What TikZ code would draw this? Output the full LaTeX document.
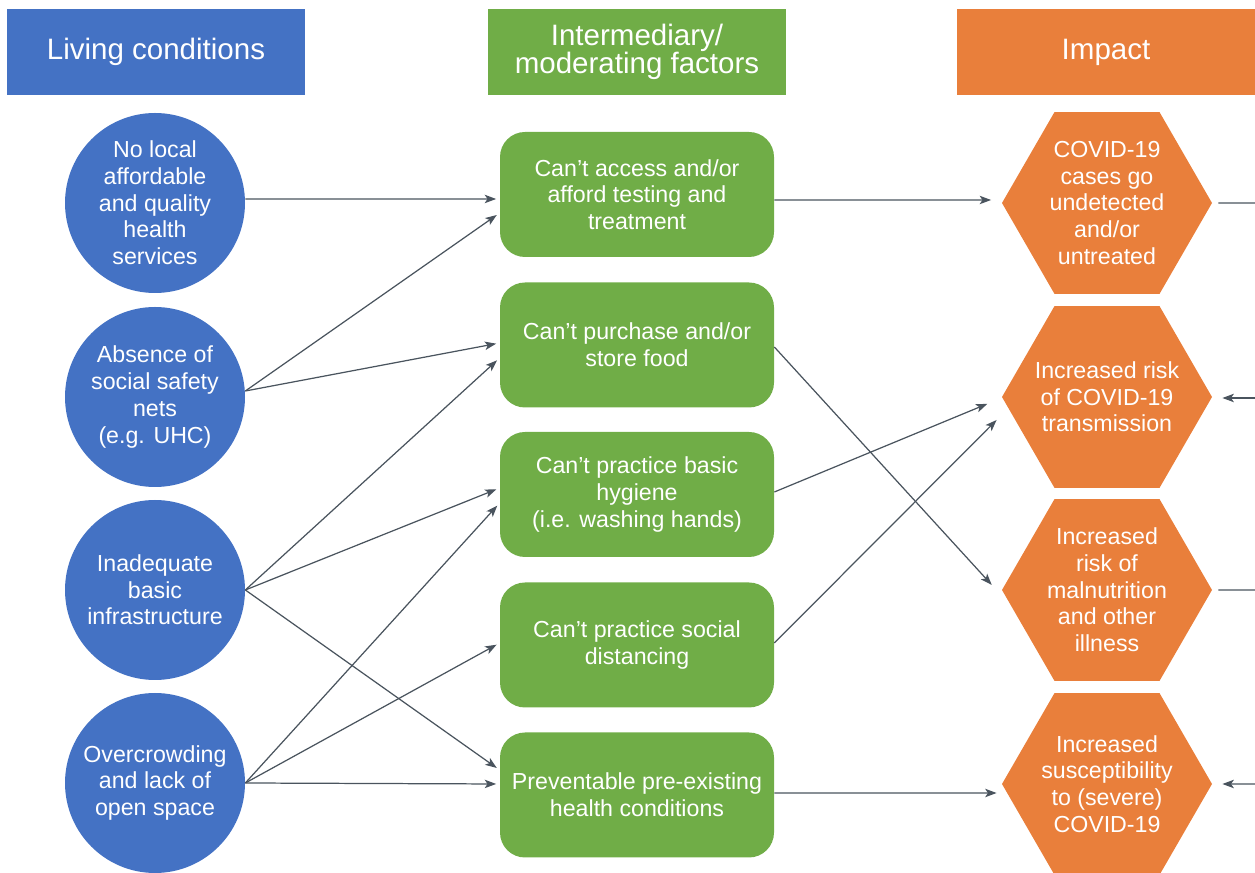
\documentclass[tikz,border=0pt]{standalone}
\usepackage{fontspec}
\setmainfont{Liberation Sans}
\usepackage{xcolor}
\usepackage{tikz}
\usetikzlibrary{shapes,shapes.geometric,arrows.meta}

\definecolor{lcBlue}{HTML}{4472C4}
\definecolor{lcGreen}{HTML}{70AD47}
\definecolor{lcOrange}{HTML}{E97F3B}
\definecolor{lcLine}{HTML}{4A545E}

\tikzstyle{tsWhiteText} = [ 
    text=white, 
    font=\fontsize{13.2}{15.2}\selectfont,
    align=center
]
\tikzstyle{tsHeader} = [ 
    rectangle,
    text=white, 
    font=\fontsize{16.8}{16}\selectfont,
    align=center,
    minimum width=5.96cm,
    minimum height=1.72cm,
    inner sep=0pt
]
\tikzstyle{tsCircle} = [ 
    circle,
    tsWhiteText,
    fill=lcBlue,
    minimum size=3.6cm,
    inner sep=0pt
]
\tikzstyle{tsBox} = [ 
    rectangle,
    rounded corners=0.5cm,
    tsWhiteText,
    fill=lcGreen,
    minimum width=5.48cm,
    minimum height=2.5cm,
    inner sep=0pt
]
\tikzstyle{tsHex} = [ 
    regular polygon,
    regular polygon sides=6,
    tsWhiteText,
    fill=lcOrange,
    minimum size=4.2cm,
    inner sep=-0.3cm
]
\tikzstyle{tsLine} = [ 
    draw=lcLine,
    line width=0.7pt
]
\tikzstyle{tsArrow} = [ 
    tsLine,
    -{Stealth[length=6.5pt,width=4.8pt,inset=1.6pt]},
    shorten >=2pt
]

\begin{document}
\begin{tikzpicture}

    \useasboundingbox (0,0) rectangle (25.1,17.46);

    % column headers
    \node[tsHeader, fill=lcBlue] (hLiving) at (3.12,16.42) {Living conditions};
    \node[tsHeader, fill=lcGreen] (hInter) at (12.74,16.42) {Intermediary/\\moderating factors};
    \node[tsHeader, fill=lcOrange] (hImpact) at (22.12,16.42) {Impact};

    % living conditions
    \node[tsCircle] (c1) at (3.1,13.4) {No local\\affordable\\and quality\\health\\services};
    \node[tsCircle] (c2) at (3.1,9.52) {Absence of\\social safety\\nets\\(e.g. UHC)};
    \node[tsCircle] (c3) at (3.1,5.66) {Inadequate\\basic\\infrastructure};
    \node[tsCircle] (c4) at (3.1,1.8) {Overcrowding\\and lack of\\open space};

    % intermediary factors
    \node[tsBox] (b1) at (12.74,13.57) {Can’t access and/or\\afford testing and\\treatment};
    \node[tsBox] (b2) at (12.74,10.56) {Can’t purchase and/or\\store food};
    \node[tsBox] (b3) at (12.74,7.57) {Can’t practice basic\\hygiene\\(i.e. washing hands)};
    \node[tsBox] (b4) at (12.74,4.56) {Can’t practice social\\distancing};
    \node[tsBox] (b5) at (12.74,1.56) {Preventable pre-existing\\health conditions};

    % impact
    \node[tsHex] (h1) at (22.14,13.4) {COVID-19\\cases go\\undetected\\and/or\\untreated};
    \node[tsHex] (h2) at (22.14,9.52) {Increased risk\\of COVID-19\\transmission};
    \node[tsHex] (h3) at (22.14,5.66) {Increased\\risk of\\malnutrition\\and other\\illness};
    \node[tsHex] (h4) at (22.14,1.78) {Increased\\susceptibility\\to (severe)\\COVID-19};

    % free ends at the right edge
    \coordinate (o1) at (25.1,13.4);
    \coordinate (o2) at (25.1,9.5);
    \coordinate (o3) at (25.1,5.66);
    \coordinate (o4) at (25.1,1.78);

    % living conditions -> intermediary factors
    \draw[tsArrow] ([yshift=0.08cm]c1.east) -- ([yshift=-0.09cm]b1.west);
    \draw[tsArrow] ([yshift=0.12cm]c2.east) -- ([yshift=-0.37cm]b1.west);
    \draw[tsArrow] ([yshift=0.12cm]c2.east) -- ([yshift=0.04cm]b2.west);
    \draw[tsArrow] (c3.east) -- ([yshift=-0.26cm]b2.west);
    \draw[tsArrow] (c3.east) -- ([yshift=0.13cm]b3.west);
    \draw[tsArrow] (c3.east) -- ([yshift=0.5cm]b5.west);
    \draw[tsArrow] (c4.east) -- ([yshift=-0.17cm]b3.west);
    \draw[tsArrow] (c4.east) -- ([yshift=0.04cm]b4.west);
    \draw[tsArrow] (c4.east) -- ([yshift=0.22cm]b5.west);

    % intermediary factors -> impact
    \draw[tsArrow] ([yshift=-0.11cm]b1.east) -- ([xshift=-0.14cm,yshift=0.06cm]h1.west);
    \draw[tsArrow] ([yshift=-0.04cm]b2.east) -- ([xshift=-0.15cm,yshift=0.05cm]h3.west);
    \draw[tsArrow] ([yshift=0.05cm]b3.east) -- ([xshift=-0.22cm,yshift=-0.11cm]h2.west);
    \draw[tsArrow] ([yshift=0.04cm]b4.east) -- ([xshift=-0.05cm,yshift=-0.41cm]h2.west);
    \draw[tsArrow] ([yshift=0.04cm]b5.east) -- ([xshift=-0.03cm,yshift=-0.18cm]h4.west);

    % links leaving the picture
    \draw[tsLine] ([xshift=0.12cm]h1.east) -- (o1);
    \draw[tsArrow] (o2) -- ([xshift=0.13cm]h2.east |- o2);
    \draw[tsLine] ([xshift=0.12cm]h3.east) -- (o3);
    \draw[tsArrow] (o4) -- ([xshift=0.13cm]h4.east);

\end{tikzpicture}
\end{document}
